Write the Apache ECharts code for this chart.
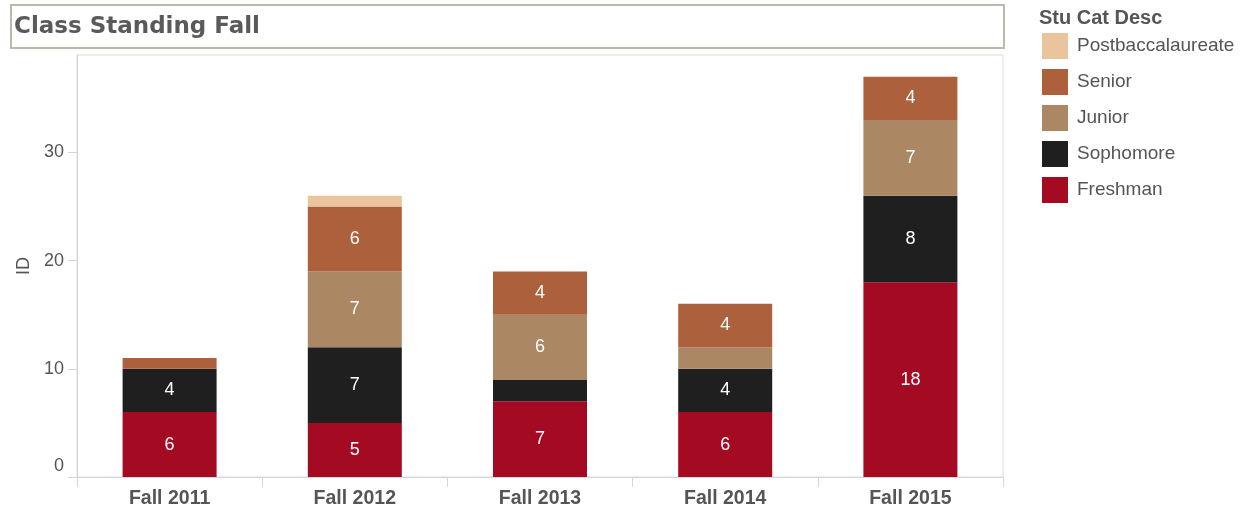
<!DOCTYPE html>
<html>
<head>
<meta charset="utf-8">
<script src="https://cdn.jsdelivr.net/npm/echarts@6/dist/echarts.min.js"></script>
<style>
html,body{margin:0;padding:0;background:#fff;}
#chart{width:1243px;height:509px;}
</style>
</head>
<body>
<div id="chart"></div>
<script>
const categories = ['Fall 2011', 'Fall 2012', 'Fall 2013', 'Fall 2014', 'Fall 2015'];
const freshman = [6, 5, 7, 6, 18];
const sophomore = [4, 7, 2, 4, 8];
const junior = [0, 7, 6, 2, 7];
const senior = [1, 6, 4, 4, 4];
const postbac = [0, 1, 0, 0, 0];
const yTicks = [0, 10, 20, 30];
const legendOrder = ['Postbaccalaureate', 'Senior', 'Junior', 'Sophomore', 'Freshman'];

const colors = {
  Freshman: '#A50A23',
  Sophomore: '#1F1F1F',
  Junior: '#AB8763',
  Senior: '#AC613C',
  Postbaccalaureate: '#EAC49C'
};
const FONT = '"Liberation Sans", Arial, sans-serif';
const TXT = '#555555';

function mk(name, data) {
  return {
    name: name,
    type: 'bar',
    stack: 'total',
    data: data,
    barWidth: 94,
    itemStyle: { color: colors[name] },
    label: {
      show: true,
      position: 'inside',
      color: '#ffffff',
      fontFamily: FONT,
      fontSize: 18,
      formatter: p => (p.value >= 3 ? String(p.value) : '')
    },
    emphasis: { disabled: true }
  };
}

const chart = echarts.init(document.getElementById('chart'), null, { renderer: 'canvas' });
chart.setOption({
  animation: false,
  backgroundColor: '#ffffff',
  graphic: [
    {
      type: 'rect',
      shape: { x: 11, y: 5, width: 993, height: 43 },
      style: { fill: 'none', stroke: '#bcb8aa', lineWidth: 2 },
      silent: true
    },
    {
      type: 'text',
      x: 14, y: 27,
      style: {
        text: 'Class Standing Fall',
        font: 'bold 23px "DejaVu Sans", sans-serif',
        fill: '#5a5a5a',
        verticalAlign: 'middle', align: 'left'
      },
      silent: true
    },
    {
      type: 'text',
      x: 1039, y: 18,
      style: {
        text: 'Stu Cat Desc',
        font: 'bold 20px "Liberation Sans", Arial, sans-serif',
        fill: TXT,
        verticalAlign: 'middle', align: 'left'
      },
      silent: true
    }
  ],
  legend: {
    orient: 'vertical',
    left: 1042, top: 33,
    padding: 0,
    itemWidth: 26, itemHeight: 26, itemGap: 10,
    icon: 'rect',
    data: legendOrder,
    selectedMode: false,
    textStyle: { fontFamily: FONT, fontSize: 19, color: TXT, padding: [3, 0, 0, 4] }
  },
  grid: {
    left: 77, right: 240, top: 55, bottom: 32,
    show: true, borderColor: '#dcdcdc', borderWidth: 1,
    containLabel: false
  },
  xAxis: {
    type: 'category',
    data: categories,
    axisLine: { show: true, lineStyle: { color: '#d6d6d6', width: 1 } },
    axisTick: { show: true, length: 10, alignWithLabel: false, lineStyle: { color: '#d6d6d6' } },
    axisLabel: { fontFamily: FONT, fontWeight: 'bold', fontSize: 19.5, color: TXT, margin: 12 }
  },
  yAxis: {
    type: 'value',
    min: 0, max: 39, interval: 10,
    name: 'ID',
    nameLocation: 'middle',
    nameGap: 37,
    nameRotate: 90,
    nameTextStyle: { fontFamily: FONT, fontSize: 18, color: TXT },
    axisLine: { show: true, lineStyle: { color: '#d6d6d6', width: 1 } },
    axisTick: { show: true, length: 9, customValues: yTicks, lineStyle: { color: '#d6d6d6' } },
    axisLabel: {
      customValues: yTicks,
      fontFamily: FONT, fontSize: 18, color: TXT, margin: 13,
      formatter: v => (v === 0 ? '{z|0}' : String(v)),
      rich: { z: { fontFamily: FONT, fontSize: 18, color: TXT, padding: [0, 0, 22, 0] } }
    },
    splitLine: { show: false }
  },
  series: [
    mk('Freshman', freshman),
    mk('Sophomore', sophomore),
    mk('Junior', junior),
    mk('Senior', senior),
    mk('Postbaccalaureate', postbac)
  ]
});
</script>
</body>
</html>
